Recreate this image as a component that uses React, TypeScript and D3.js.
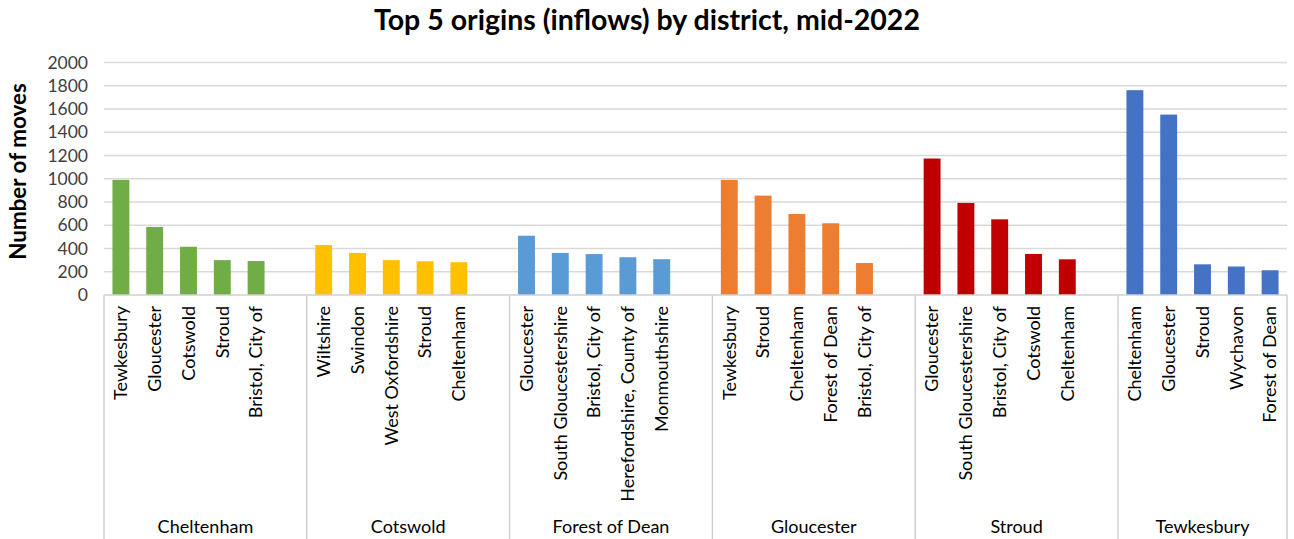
import React from "react";
import * as d3 from "d3";

const districts = ["Cheltenham", "Cotswold", "Forest of Dean", "Gloucester", "Stroud", "Tewkesbury"];
const districtColors = ["#70AD47", "#FFC000", "#5B9BD5", "#ED7D31", "#C00000", "#4472C4"];

const cheltenhamOrigins = ["Tewkesbury", "Gloucester", "Cotswold", "Stroud", "Bristol, City of"];
const cheltenhamValues = [990, 585, 415, 300, 292];
const cotswoldOrigins = ["Wiltshire", "Swindon", "West Oxfordshire", "Stroud", "Cheltenham"];
const cotswoldValues = [430, 362, 300, 290, 282];
const forestOrigins = ["Gloucester", "South Gloucestershire", "Bristol, City of", "Herefordshire, County of", "Monmouthshire"];
const forestValues = [510, 362, 352, 325, 308];
const gloucesterOrigins = ["Tewkesbury", "Stroud", "Cheltenham", "Forest of Dean", "Bristol, City of"];
const gloucesterValues = [990, 855, 697, 617, 275];
const stroudOrigins = ["Gloucester", "South Gloucestershire", "Bristol, City of", "Cotswold", "Cheltenham"];
const stroudValues = [1174, 792, 651, 353, 307];
const tewkesburyOrigins = ["Cheltenham", "Gloucester", "Stroud", "Wychavon", "Forest of Dean"];
const tewkesburyValues = [1762, 1552, 264, 245, 213];

const yTicks = [0, 200, 400, 600, 800, 1000, 1200, 1400, 1600, 1800, 2000];

const originLists = [cheltenhamOrigins, cotswoldOrigins, forestOrigins, gloucesterOrigins, stroudOrigins, tewkesburyOrigins];
const valueLists = [cheltenhamValues, cotswoldValues, forestValues, gloucesterValues, stroudValues, tewkesburyValues];

type Slot = { key: string; group: number; origin?: string; value?: number };

const slots: Slot[] = [];
districts.forEach((d, gi) => {
  originLists[gi].forEach((o, i) => {
    slots.push({ key: `${gi}-${i}`, group: gi, origin: o, value: valueLists[gi][i] });
  });
  if (gi < districts.length - 1) slots.push({ key: `${gi}-blank`, group: gi });
});

const W = 1294;
const H = 539;
const left = 104;
const right = 1287;
const top = 62.5;
const bottom = 295;
const font = "Lato, 'Open Sans', sans-serif";

export default function App() {
  const x = d3
    .scaleBand<string>()
    .domain(slots.map((s) => s.key))
    .range([left, right])
    .paddingInner(0.5)
    .paddingOuter(0.25);
  const y = d3.scaleLinear().domain([0, 2000]).range([bottom, top]);
  const step = x.step();

  const groupBounds = districts.map((d, gi) => {
    const first = slots.findIndex((s) => s.group === gi);
    const start = left + first * step;
    const end = gi < districts.length - 1 ? left + (first + 6) * step : right;
    return { d, start, end };
  });

  return (
    <svg
      width={W}
      height={H}
      style={{ position: "absolute", left: 0, top: 0, display: "block", background: "#fff" }}
    >
      <text
        x={647}
        y={30}
        textAnchor="middle"
        fontFamily={font}
        fontWeight="bold"
        fontSize={28.5}
        fill="#000"
      >
        Top 5 origins (inflows) by district, mid-2022
      </text>

      {yTicks.map((t) => (
        <g key={t}>
          {t > 0 && (
            <line x1={left} x2={right} y1={y(t)} y2={y(t)} stroke="#D9D9D9" strokeWidth={1.5} />
          )}
          <text
            x={88}
            y={y(t)}
            dy="0.35em"
            textAnchor="end"
            fontFamily={font}
            fontSize={17.5}
            fill="#404040"
          >
            {t}
          </text>
        </g>
      ))}

      <text
        transform={`translate(26,${(83 + 260) / 2}) rotate(-90)`}
        textAnchor="middle"
        fontFamily={font}
        fontWeight="bold"
        fontSize={22.4}
        fill="#000"
      >
        Number of moves
      </text>

      {slots
        .filter((s) => s.value !== undefined)
        .map((s) => (
          <rect
            key={s.key}
            x={x(s.key)!}
            y={y(s.value!)}
            width={x.bandwidth()}
            height={bottom - y(s.value!)}
            fill={districtColors[s.group]}
          />
        ))}

      <line x1={left} x2={right} y1={bottom} y2={bottom} stroke="#D0D0D0" strokeWidth={1.5} />
      {groupBounds.map((g, i) => (
        <line key={`b${i}`} x1={g.start} x2={g.start} y1={bottom} y2={H} stroke="#D0D0D0" strokeWidth={1.5} />
      ))}
      <line x1={right} x2={right} y1={bottom} y2={H} stroke="#D0D0D0" strokeWidth={1.5} />

      {slots
        .filter((s) => s.origin)
        .map((s) => {
          const cx = x(s.key)! + x.bandwidth() / 2;
          return (
            <text
              key={`l${s.key}`}
              transform={`translate(${cx},306) rotate(-90)`}
              dy="0.35em"
              textAnchor="end"
              fontFamily={font}
              fontSize={18}
              fill="#000"
            >
              {s.origin}
            </text>
          );
        })}

      {groupBounds.map((g, i) => (
        <text
          key={`g${i}`}
          x={(g.start + g.end) / 2}
          y={533}
          textAnchor="middle"
          fontFamily={font}
          fontSize={18}
          fill="#000"
        >
          {g.d}
        </text>
      ))}
    </svg>
  );
}
